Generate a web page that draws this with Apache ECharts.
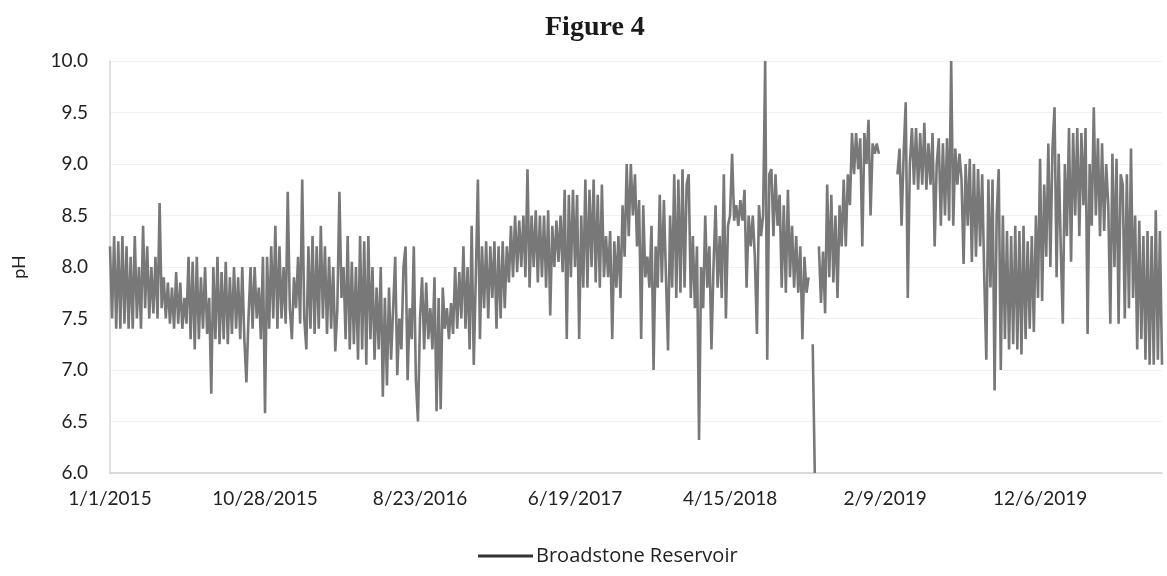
<!DOCTYPE html>
<html>
<head>
<meta charset="utf-8">
<title>Figure 4</title>
<script src="https://cdn.jsdelivr.net/npm/echarts@6/dist/echarts.min.js"></script>
<style>
  html, body { margin: 0; padding: 0; background: #fff; }
  #chart { width: 1167px; height: 576px; }
</style>
</head>
<body>
<div id="chart"></div>
<script>
// samples every 4 days starting 1/1/2015
var startDate = '2015-01-01'
var stepDays = 4
var seriesName = 'Broadstone Reservoir'
var yTicks = [6.0, 6.5, 7.0, 7.5, 8.0, 8.5, 9.0, 9.5, 10.0]

var ph = [
  8.2, 7.5, 8.3, 7.4, 8.25, 7.4, 8.3, 7.45, 8.2, 7.4,
  8.1, 7.4, 8.3, 7.5, 8.0, 7.4, 8.4, 7.6, 8.2, 7.5,
  8.0, 7.55, 8.1, 7.5, 8.62, 7.6, 7.9, 7.5, 7.85, 7.45,
  7.8, 7.4, 7.95, 7.45, 7.85, 7.4, 7.7, 7.45, 8.1, 7.3,
  8.05, 7.2, 8.1, 7.3, 7.9, 7.4, 8.0, 7.35, 7.7, 6.77,
  8.0, 7.3, 8.1, 7.25, 7.95, 7.3, 8.05, 7.25, 7.9, 7.35,
  8.0, 7.4, 7.9, 7.3, 8.0, 7.3, 6.88, 7.5, 8.0, 7.4,
  8.0, 7.5, 7.8, 7.3, 8.1, 6.58, 8.1, 7.4, 8.2, 7.5,
  8.4, 7.4, 8.2, 7.5, 8.0, 7.45, 8.73, 7.6, 7.3, 7.9,
  7.6, 8.1, 7.45, 8.85, 7.5, 7.2, 8.2, 7.4, 8.3, 7.35,
  8.2, 7.4, 8.4, 7.5, 8.2, 7.35, 8.1, 7.4, 8.0, 7.18,
  7.6, 8.73, 7.7, 8.0, 7.3, 8.3, 7.2, 8.05, 7.25, 8.0,
  7.1, 8.3, 7.2, 8.25, 7.05, 8.3, 7.3, 8.0, 7.1, 7.8,
  7.2, 8.0, 6.74, 7.7, 6.85, 7.8, 7.1, 7.6, 8.1, 6.95,
  7.5, 7.2, 8.0, 8.2, 6.9, 7.6, 7.3, 8.2, 6.9, 6.5,
  7.5, 7.9, 7.2, 7.85, 7.3, 7.6, 7.2, 7.9, 6.6, 7.7,
  6.62, 7.8, 7.4, 7.6, 7.3, 7.65, 7.35, 8.0, 7.4, 7.95,
  7.5, 8.2, 7.4, 8.0, 7.2, 8.4, 7.05, 7.9, 8.85, 7.3,
  8.2, 7.6, 8.25, 7.5, 8.2, 7.7, 8.25, 7.4, 8.2, 7.5,
  8.25, 7.6, 8.2, 7.85, 8.4, 7.9, 8.5, 7.95, 8.45, 8.0,
  8.5, 7.9, 8.95, 7.8, 8.5, 8.0, 8.55, 7.85, 8.5, 7.9,
  8.5, 7.8, 8.55, 7.53, 8.4, 8.0, 8.45, 8.05, 8.5, 7.95,
  8.75, 7.3, 8.7, 7.9, 8.75, 8.0, 8.7, 7.3, 8.5, 7.8,
  8.85, 7.8, 8.75, 8.0, 8.85, 7.85, 8.7, 7.8, 8.8, 7.9,
  8.3, 7.9, 8.35, 7.3, 8.25, 7.8, 8.3, 7.7, 8.6, 8.1,
  9.0, 8.3, 9.0, 8.5, 8.9, 8.2, 8.65, 7.3, 8.6, 7.9,
  8.1, 7.8, 8.4, 7.0, 8.2, 7.8, 8.7, 7.85, 8.65, 7.9,
  7.19, 8.5, 7.8, 8.9, 7.7, 8.85, 7.75, 8.95, 7.8, 8.8,
  8.9, 7.7, 8.3, 7.6, 8.2, 6.32, 8.0, 7.6, 8.5, 7.8,
  8.2, 7.2, 8.0, 8.6, 7.8, 8.3, 7.7, 8.9, 7.5, 8.4,
  8.5, 9.1, 8.45, 8.6, 8.4, 8.65, 8.45, 8.75, 7.8, 8.5,
  8.2, 8.5, 8.1, 7.35, 8.6, 8.3, 8.5, 10.0, 7.1, 8.9,
  8.95, 8.3, 8.9, 8.4, 8.7, 7.8, 8.6, 7.75, 8.75, 7.9,
  8.4, 7.8, 8.3, 7.75, 8.2, 7.3, 8.1, 7.75, 7.9, null,
  7.25, 6.0, null, 8.2, 7.65, 8.15, 7.55, 8.8, 7.9, 8.7,
  7.85, 8.5, 7.7, 8.6, 8.2, 8.85, 8.2, 8.9, 8.6, 9.3,
  8.9, 9.3, 8.95, 9.25, 8.2, 9.3, 9.0, 9.43, 8.5, 9.2,
  9.1, 9.2, 9.1, null, null, null, null, null, null, null,
  null, 8.9, 9.15, 8.4, 9.1, 9.6, 7.7, 9.0, 9.35, 8.8,
  9.35, 8.75, 9.3, 8.8, 9.4, 8.75, 9.2, 8.8, 9.3, 8.2,
  9.0, 9.25, 8.4, 9.2, 8.5, 9.25, 8.45, 10.0, 8.4, 9.15,
  8.8, 9.1, 8.85, 8.03, 9.0, 8.4, 9.05, 8.05, 9.0, 8.1,
  8.95, 8.2, 8.9, 7.9, 7.1, 8.85, 7.8, 8.85, 6.8, 8.5,
  8.95, 7.0, 8.5, 7.3, 8.35, 7.2, 8.3, 7.25, 8.4, 7.2,
  8.35, 7.15, 8.4, 7.3, 8.25, 7.4, 8.3, 7.37, 8.5, 7.7,
  9.05, 7.67, 8.8, 8.1, 9.2, 8.0, 9.15, 9.55, 7.9, 9.1,
  8.2, 7.45, 9.0, 8.3, 9.35, 8.05, 9.3, 8.5, 9.35, 8.3,
  9.3, 8.6, 9.35, 7.35, 9.0, 8.4, 9.55, 8.5, 9.25, 8.3,
  9.2, 8.35, 9.0, 8.6, 7.45, 9.1, 8.0, 9.05, 7.45, 8.9,
  8.8, 7.5, 8.9, 7.6, 9.15, 7.7, 8.5, 7.2, 8.45, 7.3,
  8.3, 7.1, 8.35, 7.05, 8.3, 7.05, 8.55, 7.1, 8.35, 7.05
]

// date labels for each sample, M/D/YYYY like the excel axis
var t0 = Date.parse(startDate + 'T00:00:00Z')
var dates = ph.map(function (v, i) {
  var d = new Date(t0 + i * stepDays * 86400000)
  return (d.getUTCMonth() + 1) + '/' + d.getUTCDate() + '/' + d.getUTCFullYear()
})

var font = 'Lato, "Open Sans", sans-serif'
var chart = echarts.init(document.getElementById('chart'))
chart.setOption({
  animation: false,
  title: {
    text: 'Figure 4',
    left: 540,
    top: 9,
    textStyle: {
      fontFamily: '"Liberation Serif", "DejaVu Serif", serif',
      fontWeight: 'bold',
      fontSize: 28,
      color: '#1a1a1a'
    }
  },
  legend: {
    bottom: 5,
    left: 473,
    data: [seriesName],
    icon: 'rect',
    itemWidth: 55,
    itemHeight: 3,
    itemGap: 4,
    textStyle: { fontFamily: '"Open Sans", sans-serif', fontSize: 20, color: '#222', padding: [0, 0, 0, -2] }
  },
  grid: { left: 110, right: 5, top: 61, bottom: 103 },
  xAxis: {
    type: 'category',
    data: dates,
    boundaryGap: false,
    axisLine: { lineStyle: { color: '#cfcfcf', width: 1.5 } },
    axisTick: { show: false },
    axisLabel: {
      interval: 74,
      margin: 16,
      fontFamily: font,
      fontSize: 19,
      color: '#222'
    },
    splitLine: { show: false }
  },
  yAxis: {
    type: 'value',
    min: yTicks[0],
    max: yTicks[yTicks.length - 1],
    interval: 0.5,
    name: 'pH',
    nameLocation: 'middle',
    nameGap: 82,
    nameTextStyle: { fontFamily: font, fontSize: 18, color: '#222' },
    axisLine: { show: true, lineStyle: { color: '#d6d6d6', width: 1.5 } },
    axisTick: { show: false },
    axisLabel: {
      margin: 22,
      fontFamily: font,
      fontSize: 19,
      color: '#222',
      formatter: function (v) { return v.toFixed(1) }
    },
    splitLine: { lineStyle: { color: '#f1f1f1' } }
  },
  series: [{
    name: seriesName,
    type: 'line',
    data: ph,
    showSymbol: false,
    connectNulls: false,
    lineStyle: { color: '#787878', width: 2.6 },
    itemStyle: { color: '#333' }
  }]
})
</script>
</body>
</html>
